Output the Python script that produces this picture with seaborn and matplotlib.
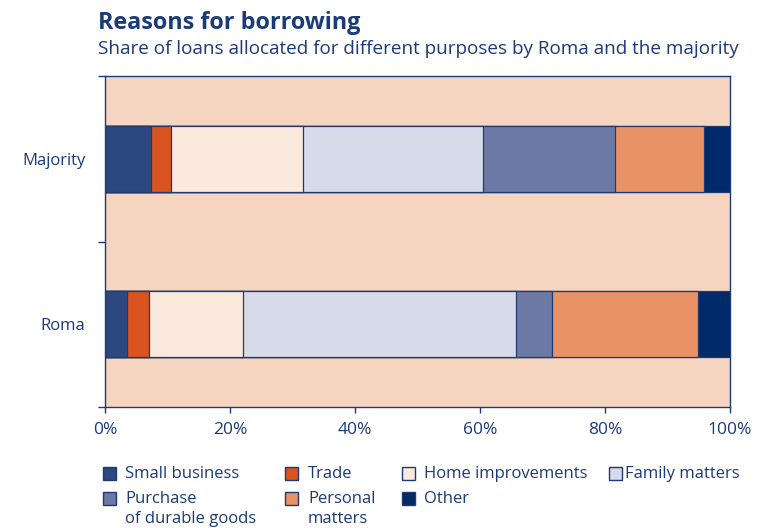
import matplotlib
matplotlib.use("Agg")
import matplotlib.pyplot as plt
from matplotlib.patches import Rectangle
from matplotlib.ticker import FixedLocator, PercentFormatter
import pandas as pd
import seaborn as sns

groups = ["Majority", "Roma"]
purposes = ["Small business", "Trade", "Home improvements", "Family matters",
            "Purchase\nof durable goods", "Personal\nmatters", "Other"]
majority = [7.3, 3.3, 21.0, 28.9, 21.1, 14.2, 4.2]
roma = [3.5, 3.5, 15.0, 43.7, 5.8, 23.3, 5.2]
colors = ["#2B4880", "#DA5420", "#FBE9DE", "#D7DBE9", "#6C79A5", "#E89266", "#002B68"]
x_ticks = [0, 20, 40, 60, 80, 100]

navy = "#1B3A78"
edge = "#1F3A70"
panel = "#F5D5C0"
W, H = 757, 528

sns.set_theme(style="white")
plt.rcParams["font.family"] = ["Open Sans", "DejaVu Sans"]

rows = []
for g, vals in zip(groups, [majority, roma]):
    cum = 0.0
    for p, v in zip(purposes, vals):
        cum += v
        rows.append({"group": g, "purpose": p, "share": v, "cum": cum})
df = pd.DataFrame(rows)

fig = plt.figure(figsize=(W / 100, H / 100), dpi=100)
ax = fig.add_axes([105 / W, 1 - 407 / H, 625 / W, 331 / H])
ax.set_facecolor(panel)

# stacked bars: draw cumulative totals from the outermost segment inwards
for p, c in reversed(list(zip(purposes, colors))):
    sub = df[df["purpose"] == p]
    sns.barplot(data=sub, x="cum", y="group", order=groups, orient="h",
                color=c, saturation=1, width=0.4, edgecolor=edge,
                linewidth=0.9, ax=ax)

ax.set_xlim(0, 100)
ax.set_ylim(1.5, -0.5)
ax.set_xlabel("")
ax.set_ylabel("")
ax.xaxis.set_major_locator(FixedLocator(x_ticks))
ax.xaxis.set_major_formatter(PercentFormatter(decimals=0))
ax.yaxis.set_minor_locator(FixedLocator([-0.5, 0.5, 1.5]))
ax.tick_params(axis="x", which="major", direction="out", length=4, width=1,
               color=navy, labelcolor=navy, labelsize=12.5, pad=7, bottom=True)
ax.tick_params(axis="y", which="major", length=0, labelcolor=navy,
               labelsize=12, pad=14)
ax.tick_params(axis="y", which="minor", direction="out", length=5, width=1,
               color=navy, left=True)
for s in ax.spines.values():
    s.set_color(navy)
    s.set_linewidth(1.0)
    s.set_visible(True)

fig.text(98 / W, 1 - 29 / H, "Reasons for borrowing", fontsize=16.8,
         fontweight="bold", color=navy, va="baseline", ha="left")
fig.text(98 / W, 1 - 54 / H,
         "Share of loans allocated for different purposes by Roma and the majority",
         fontsize=13.6, color=navy, va="baseline", ha="left")

# legend laid out in four columns, swatch aligned with the first text line
col_marker_x = [103, 285, 402, 609]
col_text_x = [125, 308, 424, 625]
row_y = [473, 498]
slots = [(0, 0), (1, 0), (2, 0), (3, 0), (0, 1), (1, 1), (2, 1)]
sw = 13
for p, c, (ci, ri) in zip(purposes, colors, slots):
    x0 = col_marker_x[ci]
    yc = row_y[ri]
    fig.patches.append(Rectangle((x0 / W, 1 - (yc + sw / 2) / H), sw / W, sw / H,
                                 transform=fig.transFigure, facecolor=c,
                                 edgecolor=edge, linewidth=1.0))
    fig.text(col_text_x[ci] / W, 1 - (yc - 7) / H, p, fontsize=12, color=navy,
             ha="left", va="top", linespacing=1.35)

fig.savefig("out.png", dpi=100)
